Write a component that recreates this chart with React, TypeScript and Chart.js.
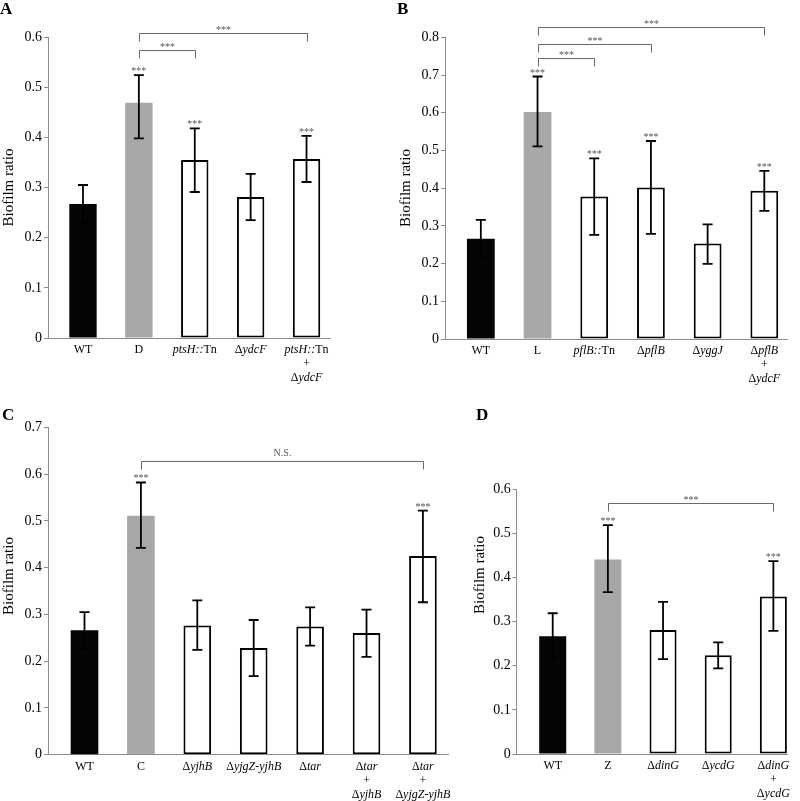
import React, { useEffect, useRef } from "react";
import { Chart, registerables } from "chart.js";
Chart.register(...registerables);

const FONT = "'Liberation Serif', 'Times New Roman', serif";
const AXIS_GRAY = "#8c8c8c";
const BRACKET_GRAY = "#6a6a6a";
const STAR_GRAY = "#555555";

// ---------- Panel A ----------
const categoriesA = ["WT", "D", "_ptsH::_Tn", "Δ_ydcF_", "_ptsH::_Tn\n+\nΔ_ydcF_"];
const valuesA = [0.267, 0.469, 0.355, 0.281, 0.357];
const errLowA = [0.229, 0.398, 0.291, 0.235, 0.311];
const errHighA = [0.305, 0.524, 0.418, 0.327, 0.403];
const starsA = [false, true, true, false, true];
const bracketsA: [number, number, string, number][] = [
  [1, 2, "***", 0.574],
  [1, 4, "***", 0.607],
];
const yTicksA = { max: 0.6, step: 0.1 };

// ---------- Panel B ----------
const categoriesB = ["WT", "L", "_pflB::_Tn", "Δ_pflB_", "Δ_yggJ_", "Δ_pflB_\n+\nΔ_ydcF_"];
const valuesB = [0.266, 0.602, 0.378, 0.402, 0.253, 0.393];
const errLowB = [0.216, 0.511, 0.276, 0.279, 0.199, 0.34];
const errHighB = [0.316, 0.696, 0.479, 0.525, 0.304, 0.446];
const starsB = [false, true, true, true, false, true];
const bracketsB: [number, number, string, number][] = [
  [1, 2, "***", 0.746],
  [1, 3, "***", 0.781],
  [1, 5, "***", 0.828],
];
const yTicksB = { max: 0.8, step: 0.1 };

// ---------- Panel C ----------
const categoriesC = [
  "WT",
  "C",
  "Δ_yjhB_",
  "Δ_yjgZ-yjhB_",
  "Δ_tar_",
  "Δ_tar_\n+\nΔ_yjhB_",
  "Δ_tar_\n+\nΔ_yjgZ-yjhB_",
];
const valuesC = [0.266, 0.511, 0.276, 0.228, 0.274, 0.26, 0.425];
const errLowC = [0.227, 0.442, 0.224, 0.168, 0.233, 0.209, 0.326];
const errHighC = [0.305, 0.582, 0.33, 0.288, 0.315, 0.31, 0.522];
const starsC = [false, true, false, false, false, false, true];
const bracketsC: [number, number, string, number][] = [[1, 6, "N.S.", 0.629]];
const yTicksC = { max: 0.7, step: 0.1 };

// ---------- Panel D ----------
const categoriesD = ["WT", "Z", "Δ_dinG_", "Δ_ycdG_", "Δ_dinG_\n+\nΔ_ycdG_"];
const valuesD = [0.267, 0.441, 0.281, 0.224, 0.357];
const errLowD = [0.215, 0.367, 0.215, 0.194, 0.279];
const errHighD = [0.319, 0.519, 0.345, 0.253, 0.437];
const starsD = [false, true, false, false, true];
const bracketsD: [number, number, string, number][] = [[1, 4, "***", 0.57]];
const yTicksD = { max: 0.6, step: 0.1 };

type Panel = {
  letter: string;
  categories: string[];
  values: number[];
  low: number[];
  high: number[];
  stars: boolean[];
  brackets: [number, number, string, number][];
  yTicks: { max: number; step: number };
  // layout
  area: { l: number; t: number; r: number; b: number };
  xRange: [number, number];
  title: [number, number];
  letterPos: [number, number];
};

const panels: Panel[] = [
  {
    letter: "A",
    categories: categoriesA,
    values: valuesA,
    low: errLowA,
    high: errHighA,
    stars: starsA,
    brackets: bracketsA,
    yTicks: yTicksA,
    area: { l: 48, t: 37, r: 330, b: 338 },
    xRange: [-0.626, 4.42],
    title: [9, 187.5],
    letterPos: [0, 14],
  },
  {
    letter: "B",
    categories: categoriesB,
    values: valuesB,
    low: errLowB,
    high: errHighB,
    stars: starsB,
    brackets: bracketsB,
    yTicks: yTicksB,
    area: { l: 445, t: 37.3, r: 787, b: 339 },
    xRange: [-0.632, 5.4],
    title: [406, 188],
    letterPos: [397, 14],
  },
  {
    letter: "C",
    categories: categoriesC,
    values: valuesC,
    low: errLowC,
    high: errHighC,
    stars: starsC,
    brackets: bracketsC,
    yTicks: yTicksC,
    area: { l: 48, t: 427.3, r: 448.3, b: 754.7 },
    xRange: [-0.647, 6.45],
    title: [9, 576],
    letterPos: [2, 420],
  },
  {
    letter: "D",
    categories: categoriesD,
    values: valuesD,
    low: errLowD,
    high: errHighD,
    stars: starsD,
    brackets: bracketsD,
    yTicks: yTicksD,
    area: { l: 516.7, t: 489.3, r: 787.7, b: 754 },
    xRange: [-0.653, 4.26],
    title: [480, 575],
    letterPos: [476, 420],
  },
];

const W = 800;
const H = 801;
const Y_SCALE_W = 40;

function drawRich(ctx: CanvasRenderingContext2D, text: string, cx: number, y: number, size: number) {
  const segs = text
    .split("_")
    .map((t, k) => ({ t, it: k % 2 === 1 }))
    .filter((s) => s.t.length > 0);
  const fontOf = (it: boolean) => `${it ? "italic " : ""}${size}px ${FONT}`;
  let w = 0;
  for (const s of segs) {
    ctx.font = fontOf(s.it);
    w += ctx.measureText(s.t).width;
  }
  let x = cx - w / 2;
  ctx.textAlign = "left";
  for (const s of segs) {
    ctx.font = fontOf(s.it);
    ctx.fillText(s.t, x, y);
    x += ctx.measureText(s.t).width;
  }
}

function makeOverlay(p: Panel) {
  return {
    id: "overlay" + p.letter,
    afterDatasetsDraw(chart: any) {
      const ctx: CanvasRenderingContext2D = chart.ctx;
      const xs = chart.scales.x;
      const ys = chart.scales.y;
      ctx.save();
      ctx.strokeStyle = "#000";
      ctx.lineWidth = 1.8;
      p.values.forEach((_v, i) => {
        const x = xs.getPixelForValue(i);
        const yl = ys.getPixelForValue(p.low[i]);
        const yh = ys.getPixelForValue(p.high[i]);
        ctx.beginPath();
        ctx.moveTo(x, yl);
        ctx.lineTo(x, yh);
        ctx.moveTo(x - 5, yh);
        ctx.lineTo(x + 5, yh);
        ctx.moveTo(x - 5, yl);
        ctx.lineTo(x + 5, yl);
        ctx.stroke();
      });
      ctx.restore();
    },
    afterDraw(chart: any) {
      const ctx: CanvasRenderingContext2D = chart.ctx;
      const xs = chart.scales.x;
      const ys = chart.scales.y;
      const area = chart.chartArea;
      ctx.save();
      // category labels
      ctx.fillStyle = "#000";
      ctx.textBaseline = "middle";
      p.categories.forEach((cat, i) => {
        const x = xs.getPixelForValue(i);
        cat.split("\n").forEach((line, j) => {
          drawRich(ctx, line, x, area.bottom + 12 + j * 14, 12);
        });
      });
      // stars above bars
      ctx.textBaseline = "alphabetic";
      ctx.textAlign = "center";
      ctx.fillStyle = STAR_GRAY;
      ctx.font = `10px ${FONT}`;
      p.stars.forEach((s, i) => {
        if (!s) return;
        const x = xs.getPixelForValue(i);
        const yh = ys.getPixelForValue(p.high[i]);
        ctx.fillText("***", x, yh - 1);
      });
      // brackets
      ctx.strokeStyle = BRACKET_GRAY;
      ctx.lineWidth = 1;
      p.brackets.forEach(([a, b, label, level]) => {
        const x1 = Math.round(xs.getPixelForValue(a)) + 0.5;
        const x2 = Math.round(xs.getPixelForValue(b)) + 0.5;
        const y = Math.round(ys.getPixelForValue(level)) + 0.5;
        ctx.beginPath();
        ctx.moveTo(x1, y + 8);
        ctx.lineTo(x1, y);
        ctx.lineTo(x2, y);
        ctx.lineTo(x2, y + 8);
        ctx.stroke();
        ctx.fillStyle = STAR_GRAY;
        ctx.font = `10px ${FONT}`;
        ctx.textAlign = "center";
        ctx.fillText(label, (x1 + x2) / 2, label === "***" ? y - 1 : y - 5.5);
      });
      // y axis title
      ctx.fillStyle = "#000";
      ctx.font = `15px ${FONT}`;
      ctx.textAlign = "center";
      ctx.textBaseline = "middle";
      ctx.translate(p.title[0], p.title[1]);
      ctx.rotate(-Math.PI / 2);
      ctx.fillText("Biofilm ratio", 0, 0);
      ctx.setTransform(1, 0, 0, 1, 0, 0);
      // panel letter
      ctx.font = `bold 17px ${FONT}`;
      ctx.textAlign = "left";
      ctx.textBaseline = "alphabetic";
      ctx.fillText(p.letter, p.letterPos[0], p.letterPos[1]);
      ctx.restore();
    },
  };
}

function PanelChart({ p }: { p: Panel }) {
  const ref = useRef<HTMLCanvasElement>(null);
  useEffect(() => {
    const canvas = ref.current!;
    const n = p.values.length;
    const fills = p.values.map((_v, i) => (i === 0 ? "#050505" : i === 1 ? "#a7a7a7" : "#ffffff"));
    const borders = p.values.map((_v, i) => (i < 2 ? 0 : 2));
    const chart = new Chart(canvas, {
      type: "bar",
      data: {
        datasets: [
          {
            data: p.values.map((v, i) => ({ x: i, y: v })),
            backgroundColor: fills,
            borderColor: "#000",
            borderWidth: borders,
            borderSkipped: false,
            barPercentage: 0.49,
            categoryPercentage: 1,
          } as any,
        ],
      },
      options: {
        responsive: false,
        animation: false,
        devicePixelRatio: 1,
        events: [],
        layout: {
          padding: {
            left: p.area.l - Y_SCALE_W,
            top: p.area.t,
            right: W - p.area.r,
            bottom: H - p.area.b,
          },
        },
        plugins: { legend: { display: false }, tooltip: { enabled: false } },
        scales: {
          x: {
            type: "linear",
            min: p.xRange[0],
            max: p.xRange[1],
            offset: false,
            ticks: { display: false },
            grid: { display: false, offset: false },
            border: { display: true, color: AXIS_GRAY, width: 1 },
            afterFit: (s: any) => {
              s.height = 0;
            },
          } as any,
          y: {
            min: 0,
            max: p.yTicks.max,
            ticks: {
              stepSize: p.yTicks.step,
              color: "#000",
              padding: 2,
              font: { family: FONT, size: 14 },
              callback: (v: any) => (Number(v) === 0 ? "0" : Number(v).toFixed(1)),
            },
            grid: {
              display: true,
              drawOnChartArea: false,
              drawTicks: true,
              tickLength: 4,
              color: AXIS_GRAY,
            },
            border: { display: true, color: AXIS_GRAY, width: 1 },
            afterFit: (s: any) => {
              s.width = Y_SCALE_W;
            },
          } as any,
        },
      },
      plugins: [makeOverlay(p)],
    });
    void n;
    return () => chart.destroy();
  }, [p]);
  return (
    <canvas
      ref={ref}
      width={W}
      height={H}
      style={{ position: "absolute", left: 0, top: 0, width: W, height: H, pointerEvents: "none" }}
    />
  );
}

export default function App() {
  return (
    <div
      style={{
        position: "absolute",
        left: 0,
        top: 0,
        width: W,
        height: H,
        background: "#ffffff",
        overflow: "hidden",
      }}
    >
      {panels.map((p) => (
        <PanelChart key={p.letter} p={p} />
      ))}
    </div>
  );
}
